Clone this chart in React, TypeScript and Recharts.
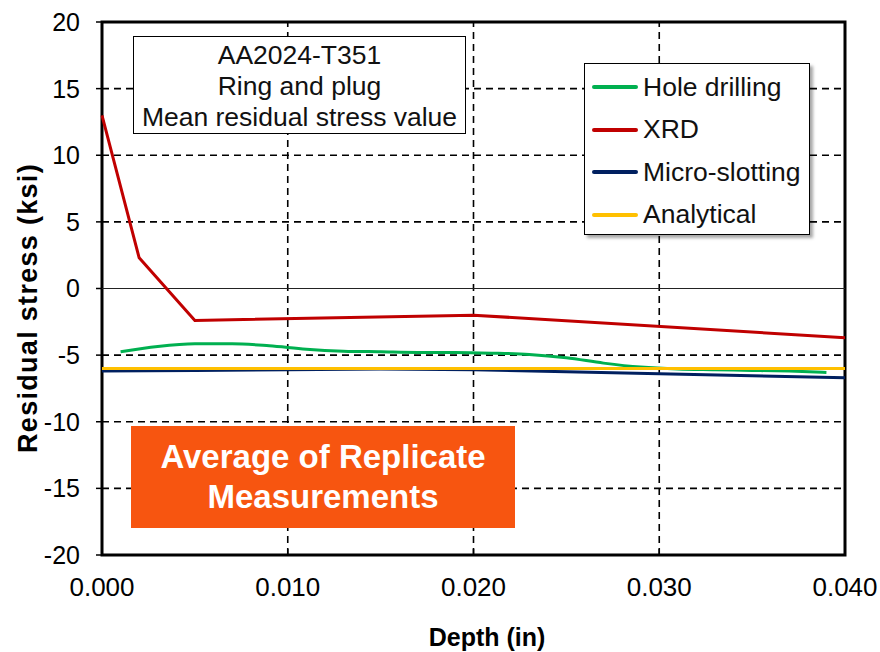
import React from 'react'
import { LineChart, Line, XAxis, YAxis, ReferenceLine, ReferenceArea, Label } from 'recharts'

// Depth (in) / residual stress (ksi) for each method
const holeDepth = [0.001, 0.003, 0.005, 0.007, 0.009, 0.011, 0.013, 0.015, 0.017, 0.019, 0.021, 0.023, 0.025, 0.027, 0.029, 0.031, 0.033, 0.035, 0.037, 0.039]
const holeStress = [-4.75, -4.35, -4.15, -4.15, -4.3, -4.55, -4.7, -4.75, -4.8, -4.8, -4.85, -4.95, -5.2, -5.6, -5.9, -6.05, -6.1, -6.15, -6.2, -6.3]

const xrdDepth = [0, 0.002, 0.005, 0.02, 0.04]
const xrdStress = [13.0, 2.3, -2.4, -2.0, -3.7]

const slotDepth = [0, 0.005, 0.01, 0.015, 0.02, 0.025, 0.03, 0.035, 0.04]
const slotStress = [-6.2, -6.15, -6.1, -6.05, -6.1, -6.25, -6.4, -6.55, -6.7]

const analyticalDepth = [0, 0.04]
const analyticalStress = [-6.0, -6.0]

const xTicks = [0, 0.01, 0.02, 0.03, 0.04]
const yTicks = [-20, -15, -10, -5, 0, 5, 10, 15, 20]
const xGrid = [0.01, 0.02, 0.03]
const yGrid = [-15, -10, -5, 5, 10, 15]

const noteLines = ['AA2024-T351', 'Ring and plug', 'Mean residual stress value']
const calloutLines = ['Average of Replicate', 'Measurements']

const zip = (xs: number[], ys: number[]) => xs.map((x, i) => ({ depth: x, stress: ys[i] }))

const series = [
  { name: 'Hole drilling', color: '#00B050', type: 'monotone', data: zip(holeDepth, holeStress) },
  { name: 'XRD', color: '#C00000', type: 'linear', data: zip(xrdDepth, xrdStress) },
  { name: 'Micro-slotting', color: '#002060', type: 'linear', data: zip(slotDepth, slotStress) },
  { name: 'Analytical', color: '#FFC000', type: 'linear', data: zip(analyticalDepth, analyticalStress) },
] as const

const FONT = '"Liberation Sans", Arial, sans-serif'

const YTitle = () => (
  <text
    transform="translate(28,308) rotate(-90)"
    textAnchor="middle"
    dominantBaseline="central"
    fontSize={27}
    letterSpacing={1.3}
    fontWeight="bold"
    fontFamily={FONT}
    fill="#000"
  >
    Residual stress (ksi)
  </text>
)

const XTitle = () => (
  <text x={487} y={637} textAnchor="middle" dominantBaseline="central" fontSize={25} fontWeight="bold" fontFamily={FONT} fill="#000">
    Depth (in)
  </text>
)

export default function App() {
  return (
    <div style={{ position: 'absolute', left: 0, top: 0, width: 880, height: 652, background: '#fff', fontFamily: FONT }}>
      <LineChart width={880} height={652} margin={{ top: 22, right: 35, bottom: 47, left: 42 }}>
        <XAxis
          type="number"
          dataKey="depth"
          domain={[0, 0.04]}
          ticks={xTicks}
          allowDuplicatedCategory={false}
          height={50}
          axisLine={false}
          tickLine={false}
          tickSize={6}
          tickMargin={17}
          tickFormatter={(v: number) => v.toFixed(3)}
          tick={{ fontSize: 26, fill: '#000', fontFamily: FONT }}
        >
          <Label content={<XTitle />} />
        </XAxis>
        <YAxis
          type="number"
          dataKey="stress"
          domain={[-20, 20]}
          ticks={yTicks}
          width={60}
          axisLine={false}
          tickLine={{ stroke: '#000', strokeWidth: 1.5 }}
          tickSize={6}
          tickMargin={16}
          tick={{ fontSize: 25, fill: '#000', fontFamily: FONT }}
        >
          <Label content={<YTitle />} />
        </YAxis>

        {yGrid.map((v) => (
          <ReferenceLine key={`h${v}`} y={v} stroke="#000" strokeWidth={1.6} strokeDasharray="7 5" />
        ))}
        {xGrid.map((v) => (
          <ReferenceLine key={`v${v}`} x={v} stroke="#000" strokeWidth={1.6} strokeDasharray="7 5" />
        ))}
        <ReferenceLine y={0} stroke="#222" strokeWidth={1} />
        {xGrid.map((v) => (
          <ReferenceLine
            key={`t${v}`}
            segment={[{ x: v, y: -20 }, { x: v, y: -19.55 }]}
            stroke="#000"
            strokeWidth={1.5}
          />
        ))}

        {series.map((s) => (
          <Line
            key={s.name}
            data={s.data}
            dataKey="stress"
            name={s.name}
            type={s.type}
            stroke={s.color}
            strokeWidth={3}
            dot={false}
            activeDot={false}
            isAnimationActive={false}
          />
        ))}

        <ReferenceArea x1={0} x2={0.04} y1={-20} y2={20} fill="none" fillOpacity={0} stroke="#000" strokeWidth={3} />
      </LineChart>

      {/* note box */}
      <div
        style={{
          position: 'absolute', left: 133, top: 36, width: 333, height: 98,
          border: '1.5px solid #000', background: '#fff', textAlign: 'center',
          fontSize: 26.5, lineHeight: '31px', paddingTop: 3, boxSizing: 'border-box', color: '#111',
        }}
      >
        {noteLines.map((t) => <div key={t}>{t}</div>)}
      </div>

      {/* legend */}
      <div
        style={{
          position: 'absolute', left: 584, top: 63, width: 226, height: 172,
          border: '1.5px solid #000', background: '#fff', boxSizing: 'border-box',
          boxShadow: '3px 3px 3px rgba(0,0,0,0.35)', paddingTop: 2,
        }}
      >
        {series.map((s) => (
          <div key={s.name} style={{ display: 'flex', alignItems: 'center', height: 42.5, fontSize: 26.5, color: '#111' }}>
            <div style={{ width: 46, height: 4, borderRadius: 2, background: s.color, marginLeft: 7, marginRight: 5 }} />
            <span>{s.name}</span>
          </div>
        ))}
      </div>

      {/* callout */}
      <div
        style={{
          position: 'absolute', left: 131, top: 426, width: 384, height: 102,
          background: '#F75510', color: '#fff', fontWeight: 'bold', fontSize: 33,
          lineHeight: '40px', textAlign: 'center', paddingTop: 11, boxSizing: 'border-box',
        }}
      >
        {calloutLines.map((t) => <div key={t}>{t}</div>)}
      </div>
    </div>
  )
}
